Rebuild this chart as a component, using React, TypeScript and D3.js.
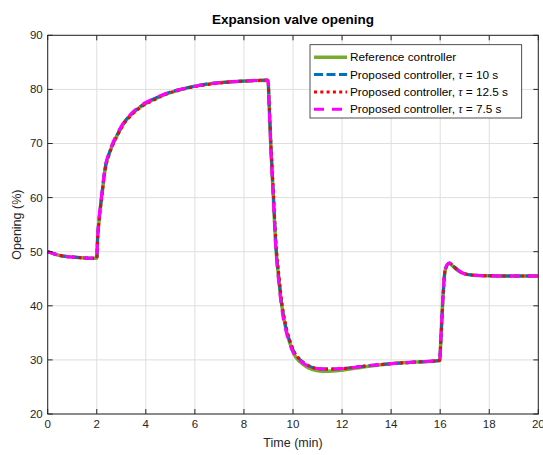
import React, { useEffect, useRef } from "react";
import * as d3 from "d3";

// time axis (min)
const times = [
  0, 0.5, 1, 1.5, 2.0, 2.03, 2.1, 2.2, 2.35, 2.5, 2.7, 2.9, 3.1, 3.4, 3.7, 4.0, 4.4, 4.8, 5.3, 6.0, 6.7, 7.5, 8.3, 8.98,
  9.03, 9.1, 9.2, 9.3, 9.42, 9.55, 9.7, 9.85, 10.05, 10.3, 10.6, 11.0, 11.4, 12.0, 13.0, 14.0, 15.0, 15.98,
  16.02, 16.06, 16.13, 16.2, 16.37, 16.5, 16.67, 17.0, 17.4, 18.0, 19.0, 20.0,
];

const refCtrl = [
  50.0, 49.3, 49.0, 48.85, 48.8, 52.0, 56.0, 60.0, 65.5, 68.0, 70.3, 72.1, 73.7, 75.3, 76.5, 77.4, 78.3, 79.1, 79.8, 80.6, 81.1, 81.4, 81.6, 81.7,
  77.0, 69.0, 60.0, 51.0, 45.0, 39.8, 36.0, 33.4, 31.0, 29.6, 28.6, 28.0, 27.9, 28.1, 28.8, 29.3, 29.6, 29.9,
  33.0, 36.7, 42.8, 46.5, 47.8, 47.4, 46.7, 45.9, 45.65, 45.55, 45.5, 45.5,
];

const tau10 = [
  50.0, 49.3, 49.0, 48.85, 48.8, 52.2, 56.3, 60.3, 65.7, 68.1, 70.4, 72.2, 73.8, 75.4, 76.6, 77.5, 78.4, 79.2, 79.9, 80.6, 81.1, 81.4, 81.6, 81.7,
  77.0, 69.5, 60.5, 51.5, 45.3, 40.0, 36.2, 33.7, 31.4, 30.0, 29.0, 28.4, 28.3, 28.4, 28.9, 29.3, 29.6, 29.9,
  33.0, 36.7, 42.8, 46.5, 47.9, 47.5, 46.8, 45.9, 45.65, 45.55, 45.5, 45.5,
];

const tau125 = [
  50.0, 49.3, 49.0, 48.85, 48.8, 52.0, 56.0, 60.0, 65.4, 67.9, 70.2, 72.0, 73.6, 75.2, 76.4, 77.3, 78.2, 79.1, 79.8, 80.5, 81.0, 81.4, 81.6, 81.7,
  77.2, 69.8, 61.0, 52.0, 45.8, 40.4, 36.5, 33.9, 31.5, 30.0, 29.0, 28.4, 28.3, 28.4, 28.9, 29.3, 29.6, 29.9,
  33.0, 36.7, 42.8, 46.5, 47.9, 47.5, 46.8, 45.9, 45.65, 45.55, 45.5, 45.5,
];

const tau75 = [
  50.0, 49.3, 49.0, 48.85, 48.8, 52.4, 56.6, 60.6, 65.9, 68.3, 70.6, 72.4, 73.9, 75.5, 76.7, 77.6, 78.5, 79.2, 79.9, 80.6, 81.1, 81.4, 81.6, 81.7,
  76.5, 68.5, 59.5, 50.5, 44.3, 39.2, 35.6, 33.2, 31.0, 29.8, 28.9, 28.4, 28.3, 28.4, 28.9, 29.3, 29.6, 29.9,
  33.2, 37.0, 43.2, 46.8, 47.9, 47.5, 46.8, 45.9, 45.65, 45.55, 45.5, 45.5,
];

const xTicks = [0, 2, 4, 6, 8, 10, 12, 14, 16, 18, 20];
const yTicks = [20, 30, 40, 50, 60, 70, 80, 90];

const seriesNames = [
  "Reference controller",
  "Proposed controller, ",
  "Proposed controller, ",
  "Proposed controller, ",
];
const seriesTau = ["", " = 10 s", " = 12.5 s", " = 7.5 s"];

const series = [
  { values: refCtrl, color: "#77AC30", width: 3.5, dash: null },
  { values: tau10, color: "#0072BD", width: 3, dash: "9,3.5" },
  { values: tau125, color: "#FF0000", width: 3, dash: "3,3.3" },
  { values: tau75, color: "#FF00FF", width: 3, dash: "10,8" },
];

const FONT = "'Liberation Sans', Arial, Helvetica, sans-serif";

export default function App() {
  const ref = useRef<SVGSVGElement>(null);

  useEffect(() => {
    const width = 543;
    const height = 455;
    const margin = { top: 35.3, right: 4.7, bottom: 41, left: 47.7 };
    const innerWidth = width - margin.left - margin.right;
    const innerHeight = height - margin.top - margin.bottom;

    const svg = d3.select(ref.current).attr("width", width).attr("height", height);
    svg.selectAll("*").remove();

    svg.append("rect").attr("width", width).attr("height", height).attr("fill", "#fff");

    const g = svg.append("g").attr("transform", `translate(${margin.left},${margin.top})`);

    const x = d3.scaleLinear().domain([0, 20]).range([0, innerWidth]);
    const y = d3.scaleLinear().domain([20, 90]).range([innerHeight, 0]);

    // grid
    g.selectAll(".vgrid").data(xTicks).join("line")
      .attr("x1", d => x(d)).attr("x2", d => x(d))
      .attr("y1", 0).attr("y2", innerHeight)
      .attr("stroke", "#dfdfdf").attr("stroke-width", 1);
    g.selectAll(".hgrid").data(yTicks).join("line")
      .attr("x1", 0).attr("x2", innerWidth)
      .attr("y1", d => y(d)).attr("y2", d => y(d))
      .attr("stroke", "#dfdfdf").attr("stroke-width", 1);

    // lines
    const line = d3.line<number>()
      .x((_, i) => x(times[i]))
      .y(d => y(d))
      .curve(d3.curveMonotoneX);

    series.forEach(s => {
      g.append("path")
        .attr("d", line(s.values))
        .attr("fill", "none")
        .attr("stroke", s.color)
        .attr("stroke-width", s.width)
        .attr("stroke-dasharray", s.dash)
        .attr("stroke-linejoin", "round");
    });

    // box + ticks
    const axisColor = "#262626";
    g.append("rect").attr("width", innerWidth).attr("height", innerHeight)
      .attr("fill", "none").attr("stroke", axisColor).attr("stroke-width", 1);

    xTicks.forEach(t => {
      g.append("line").attr("x1", x(t)).attr("x2", x(t)).attr("y1", innerHeight).attr("y2", innerHeight - 5)
        .attr("stroke", axisColor);
      g.append("line").attr("x1", x(t)).attr("x2", x(t)).attr("y1", 0).attr("y2", 5)
        .attr("stroke", axisColor);
      g.append("text").attr("x", x(t)).attr("y", innerHeight + 14.5)
        .attr("text-anchor", "middle").attr("font-family", FONT).attr("font-size", 11.5)
        .attr("fill", axisColor).text(t);
    });
    yTicks.forEach(t => {
      g.append("line").attr("x1", 0).attr("x2", 5).attr("y1", y(t)).attr("y2", y(t))
        .attr("stroke", axisColor);
      g.append("line").attr("x1", innerWidth).attr("x2", innerWidth - 5).attr("y1", y(t)).attr("y2", y(t))
        .attr("stroke", axisColor);
      g.append("text").attr("x", -5).attr("y", y(t) + 4)
        .attr("text-anchor", "end").attr("font-family", FONT).attr("font-size", 11.5)
        .attr("fill", axisColor).text(t);
    });

    // labels
    svg.append("text").attr("x", margin.left + innerWidth / 2).attr("y", 24)
      .attr("text-anchor", "middle").attr("font-family", FONT).attr("font-size", 13.5)
      .attr("font-weight", "bold").attr("fill", "#000").text("Expansion valve opening");
    svg.append("text").attr("x", margin.left + innerWidth / 2).attr("y", 447)
      .attr("text-anchor", "middle").attr("font-family", FONT).attr("font-size", 12.5)
      .attr("fill", axisColor).text("Time (min)");
    svg.append("text")
      .attr("transform", `translate(21,${margin.top + innerHeight / 2}) rotate(-90)`)
      .attr("text-anchor", "middle").attr("font-family", FONT).attr("font-size", 12.5)
      .attr("fill", axisColor).text("Opening (%)");

    // legend
    const lg = svg.append("g");
    lg.append("rect").attr("x", 310).attr("y", 44.7).attr("width", 211.7).attr("height", 73.3)
      .attr("fill", "#fff").attr("stroke", axisColor).attr("stroke-width", 0.8);
    series.forEach((s, i) => {
      const cy = 57.3 + i * 17.3;
      lg.append("line").attr("x1", 314).attr("x2", 347).attr("y1", cy).attr("y2", cy)
        .attr("stroke", s.color).attr("stroke-width", s.width).attr("stroke-dasharray", s.dash);
      const txt = lg.append("text").attr("x", 350).attr("y", cy + 4)
        .attr("font-family", FONT).attr("font-size", 11.8).attr("fill", "#000");
      txt.append("tspan").text(seriesNames[i]);
      if (seriesTau[i]) {
        txt.append("tspan").attr("font-family", "'Liberation Serif', 'DejaVu Serif', serif")
          .attr("font-style", "italic").text("\u03c4");
        txt.append("tspan").text(seriesTau[i]);
      }
    });
  }, []);

  return <svg ref={ref} style={{ position: "absolute", left: 0, top: 0 }}></svg>;
}
